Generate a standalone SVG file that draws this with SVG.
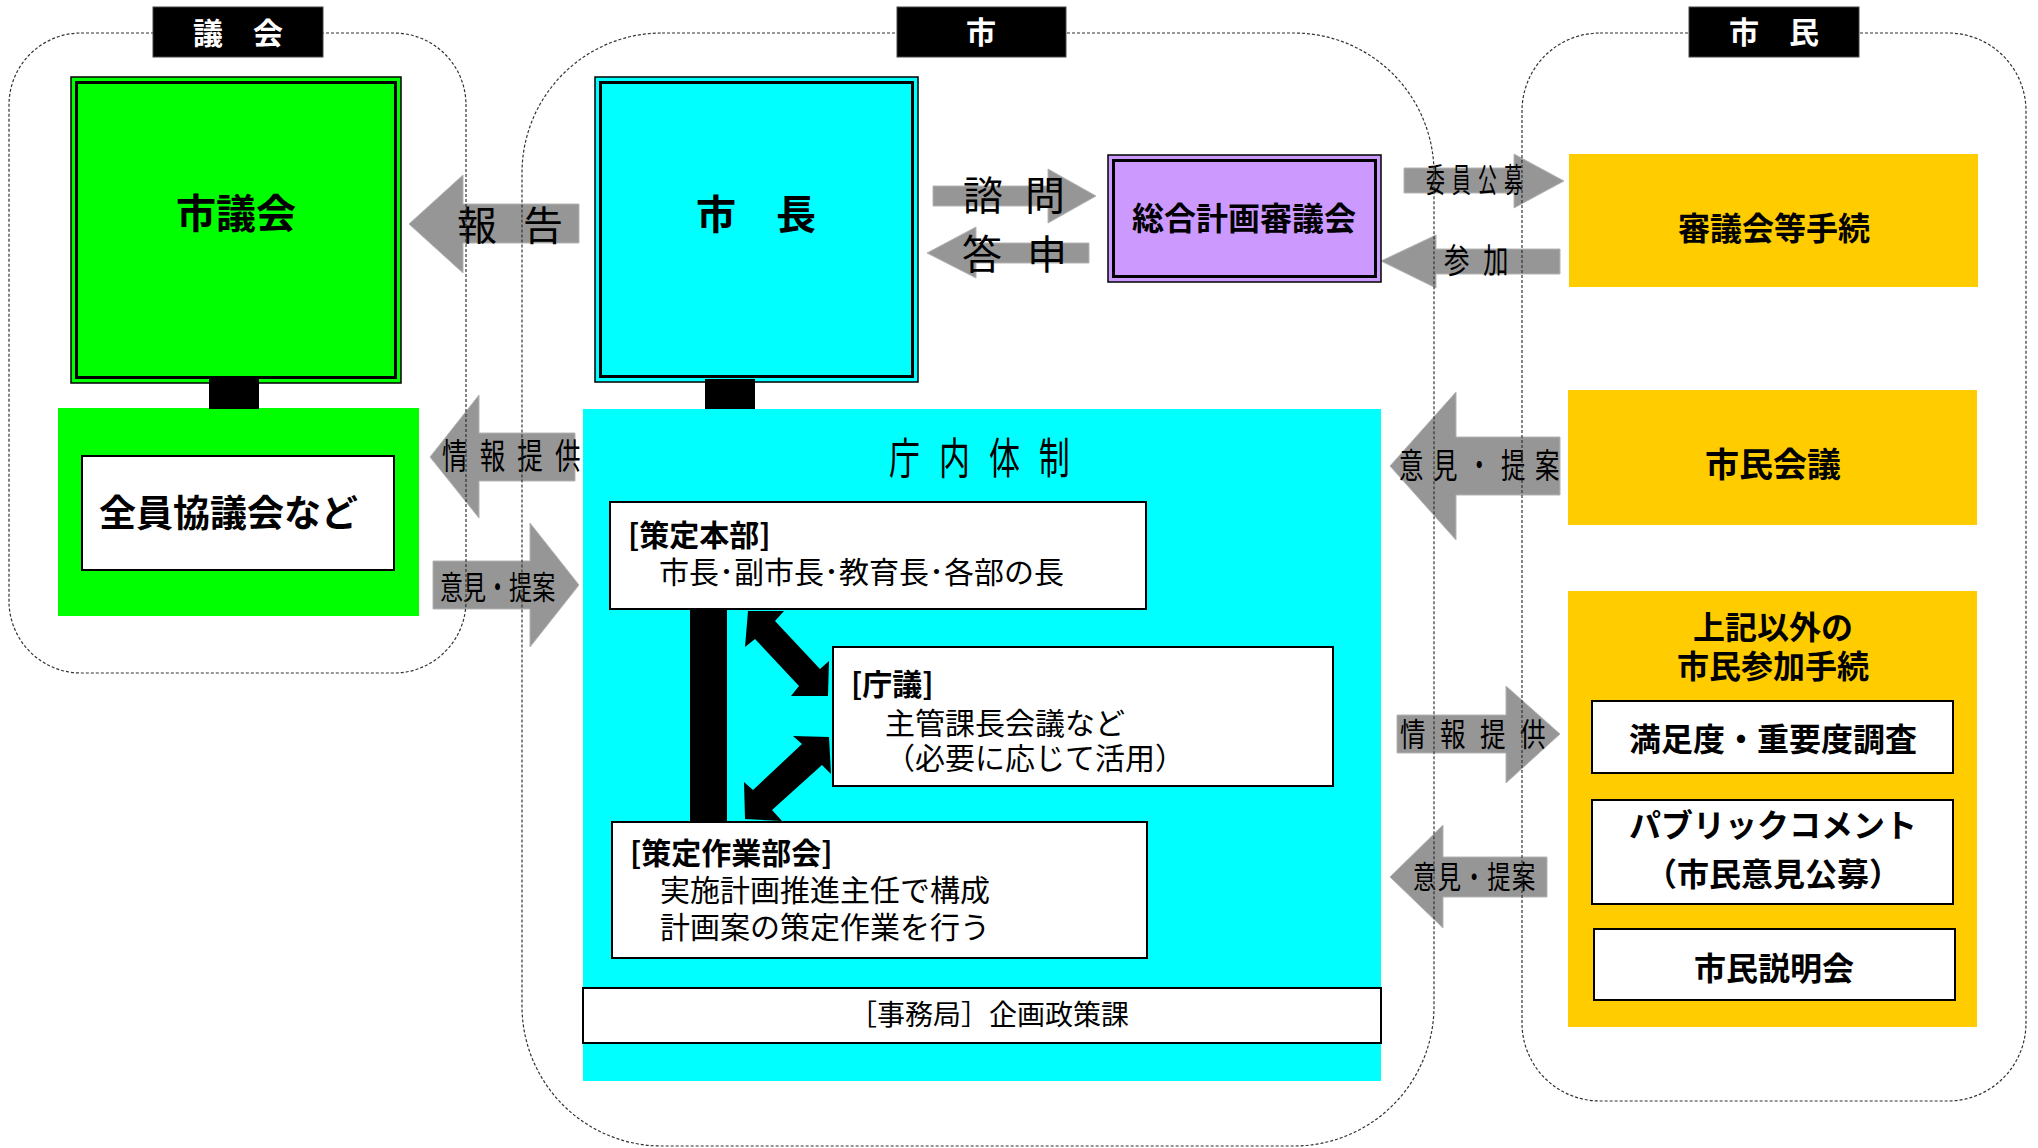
<svg xmlns="http://www.w3.org/2000/svg" width="2038" height="1148" viewBox="0 0 2038 1148">
<style>
.t{font-family:"Noto Sans CJK JP","Noto Sans",sans-serif;dominant-baseline:central;fill:#000}
.b{font-weight:bold}
.w{fill:#fff}
.cont{fill:none;stroke:#333;stroke-width:1.2;stroke-dasharray:3 2}
.lab{fill:#000;stroke:#444;stroke-width:1}
.ga{fill:#969696;stroke:#b4b4b4;stroke-width:1}
.box{fill:#fff;stroke:#000;stroke-width:2}
.o{fill:none;stroke:#000;stroke-width:1.5}
.i{fill:none;stroke:#000;stroke-width:3}
.blk{fill:#000}
</style>
<rect width="2038" height="1148" fill="#fff"/>

<g id="connectors">
  <polygon class="ga" points="409,224 463,175 463,204 579,204 579,243 463,243 463,273"/>
  <text class="t" font-size="40" letter-spacing="26" x="457" y="223">報告</text>
  <polygon class="ga" points="430,457 479,395 479,433 575,433 575,481 479,481 479,518"/>
  <text class="t" font-size="35" letter-spacing="16.6" transform="translate(442,454) scale(0.73,1)">情報提供</text>
  <polygon class="ga" points="579,585 530,523 530,561 433,561 433,609 530,609 530,647"/>
  <text class="t" font-size="32" transform="translate(440,585) scale(0.72,1)">意見・提案</text>
  <polygon class="ga" points="1096,196 1048,169 1048,186 933,186 933,206 1048,206 1048,223"/>
  <text class="t" font-size="40" letter-spacing="22" x="963" y="193">諮問</text>
  <polygon class="ga" points="927,253 976,227 976,243 1089,243 1089,263 976,263 976,278"/>
  <text class="t" font-size="40" letter-spacing="25" x="962" y="252">答申</text>
  <polygon class="ga" points="1564,181 1514,154 1514,168 1404,168 1404,193 1514,193 1514,208"/>
  <text class="t" font-size="33" letter-spacing="12.6" transform="translate(1426,178) scale(0.57,1)">委員公募</text>
  <polygon class="ga" points="1381,261 1436,235 1436,249 1560,249 1560,274 1436,274 1436,288"/>
  <text class="t" font-size="34" letter-spacing="18" transform="translate(1444,258) scale(0.75,1)">参加</text>
  <polygon class="ga" points="1390,466 1456,392 1456,437 1560,437 1560,495 1456,495 1456,540"/>
  <text class="t" font-size="34" letter-spacing="13.2" transform="translate(1399,464) scale(0.72,1)">意見・提案</text>
  <polygon class="ga" points="1560,734 1506,686 1506,715 1397,715 1397,753 1506,753 1506,783"/>
  <text class="t" font-size="32" letter-spacing="18" transform="translate(1400,732) scale(0.8,1)">情報提供</text>
  <polygon class="ga" points="1390,877 1443,825 1443,857 1547,857 1547,897 1443,897 1443,928"/>
  <text class="t" font-size="31" letter-spacing="2" transform="translate(1413,874) scale(0.75,1)">意見・提案</text>
</g>

<g id="containers">
  <rect class="cont" x="9" y="33" width="457" height="640" rx="72" ry="72"/>
  <rect class="cont" x="522" y="33" width="912" height="1113" rx="140" ry="140"/>
  <rect class="cont" x="1522" y="33" width="504" height="1068" rx="78" ry="78"/>
  <rect class="lab" x="153" y="7" width="170" height="50"/>
  <text class="t b w" font-size="30" x="238" y="31" text-anchor="middle">議　会</text>
  <rect class="lab" x="897" y="7" width="169" height="50"/>
  <text class="t b w" font-size="30" x="981" y="30" text-anchor="middle">市</text>
  <rect class="lab" x="1689" y="7" width="170" height="50"/>
  <text class="t b w" font-size="30" x="1774" y="30" text-anchor="middle">市　民</text>
</g>

<g id="shigikai">
  <rect x="71" y="77" width="330" height="306" fill="#00ff00"/>
  <rect class="o" x="71" y="77" width="330" height="306"/>
  <rect class="i" x="76.5" y="82.5" width="319" height="295"/>
  <text class="t b" font-size="40" x="236" y="211" text-anchor="middle">市議会</text>
</g>

<g id="zenin">
  <rect x="58" y="408" width="361" height="208" fill="#00ff00"/>
  <rect class="box" x="82" y="456" width="312" height="114"/>
  <text class="t b" font-size="37" x="99" y="511">全員協議会など</text>
</g>

<g id="shicho">
  <rect x="595" y="77" width="323" height="305" fill="#00ffff"/>
  <rect class="o" x="595" y="77" width="323" height="305"/>
  <rect class="i" x="600.5" y="82.5" width="312" height="294"/>
  <text class="t b" font-size="40" x="756" y="212" text-anchor="middle">市　長</text>
</g>

<g id="chonai">
  <rect x="583" y="409" width="798" height="672" fill="#00ffff"/>
  <text class="t" font-size="43" letter-spacing="26.4" transform="translate(889,456) scale(0.72,1)">庁内体制</text>
  <g id="honbu">
    <rect class="box" x="610" y="502" width="536" height="107"/>
    <text class="t b" font-size="30" x="628" y="533">[策定本部]</text>
    <text class="t" font-size="30" x="659" y="570">市長･副市長･教育長･各部の長</text>
  </g>
  <g id="chogi">
    <rect class="box" x="833" y="647" width="500" height="139"/>
    <text class="t b" font-size="30" x="851" y="682">[庁議]</text>
    <text class="t" font-size="30" x="885" y="721">主管課長会議など</text>
    <text class="t" font-size="30" x="885" y="756">（必要に応じて活用）</text>
  </g>
  <g id="sagyo">
    <rect class="box" x="612" y="822" width="535" height="136"/>
    <text class="t b" font-size="30" x="630" y="851">[策定作業部会]</text>
    <text class="t" font-size="30" x="660" y="888">実施計画推進主任で構成</text>
    <text class="t" font-size="30" x="660" y="925">計画案の策定作業を行う</text>
  </g>
  <g id="jimukyoku">
    <rect class="box" x="583" y="988" width="798" height="55"/>
    <text class="t" font-size="28" x="989" y="1013" text-anchor="middle">［事務局］企画政策課</text>
  </g>
</g>

<g id="sogo">
  <rect x="1108" y="155" width="273" height="127" fill="#cc99ff"/>
  <rect class="o" x="1108" y="155" width="273" height="127"/>
  <rect class="i" x="1113.5" y="160.5" width="262" height="116"/>
  <text class="t b" font-size="32" x="1244" y="216" text-anchor="middle">総合計画審議会</text>
</g>

<g id="shingikai-tetsuzuki">
  <rect x="1569" y="154" width="409" height="133" fill="#ffcc00"/>
  <text class="t b" font-size="32" x="1774" y="226" text-anchor="middle">審議会等手続</text>
</g>

<g id="shimin-kaigi">
  <rect x="1568" y="390" width="409" height="135" fill="#ffcc00"/>
  <text class="t b" font-size="34" x="1773" y="462" text-anchor="middle">市民会議</text>
</g>

<g id="sonota">
  <rect x="1568" y="591" width="409" height="436" fill="#ffcc00"/>
  <text class="t b" font-size="32" x="1773" y="625" text-anchor="middle">上記以外の</text>
  <text class="t b" font-size="32" x="1773" y="664" text-anchor="middle">市民参加手続</text>
  <g id="manzokudo">
    <rect class="box" x="1592" y="701" width="361" height="72"/>
    <text class="t b" font-size="32" x="1773" y="737" text-anchor="middle">満足度・重要度調査</text>
  </g>
  <g id="pubcom">
    <rect class="box" x="1592" y="800" width="361" height="104"/>
    <text class="t b" font-size="32" x="1773" y="823" text-anchor="middle">パブリックコメント</text>
    <text class="t b" font-size="32" x="1773" y="872" text-anchor="middle">（市民意見公募）</text>
  </g>
  <g id="setsumeikai">
    <rect class="box" x="1594" y="929" width="361" height="71"/>
    <text class="t b" font-size="32" x="1774" y="966" text-anchor="middle">市民説明会</text>
  </g>
</g>

<g id="links">
  <rect class="blk" x="209" y="379" width="50" height="30"/>
  <rect class="blk" x="705" y="379" width="50" height="30"/>
  <rect class="blk" x="690" y="609" width="37" height="213"/>
  <polygon class="blk" points="745,647 748,611 784,611 775,621 820,669 829,661 828,696 791,696 799,686 755,639"/>
  <polygon class="blk" points="745,819 744,782 753,790 802,744 793,736 829,737 831,774 822,765 772,810 782,821"/>
</g>
</svg>
